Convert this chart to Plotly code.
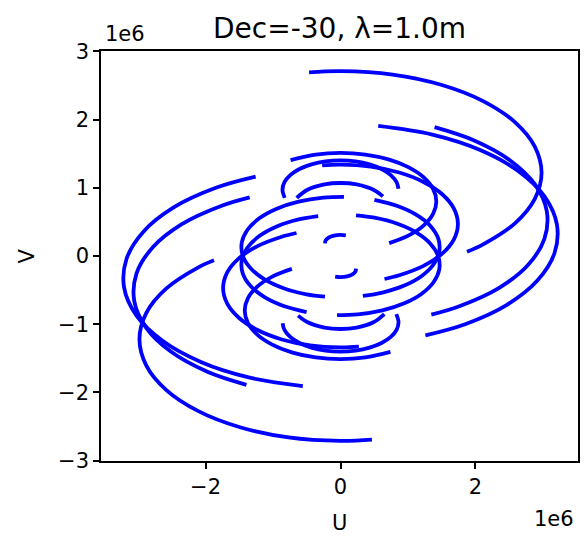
import plotly.graph_objects as go

# u, v values in units of 1e6 wavelengths
E1_U = [-0.466, 0.0, 0.771, 1.490, 2.107, 2.581, 2.878, 2.980, 2.878, 2.581, 2.107, 1.875]
E1_V = [2.692, 2.710, 2.659, 2.510, 2.274, 1.965, 1.606, 1.220, 0.834, 0.475, 0.166, 0.062]
E1M_U = [0.466, 0.0, -0.771, -1.490, -2.107, -2.581, -2.878, -2.980, -2.878, -2.581, -2.107, -1.875]
E1M_V = [-2.692, -2.710, -2.659, -2.510, -2.274, -1.965, -1.606, -1.220, -0.834, -0.475, -0.166, -0.062]

E2_U = [0.559, 1.361, 2.070, 2.638, 3.026, 3.208, 3.171, 2.918, 2.467, 1.847, 1.258]
E2_V = [1.906, 1.779, 1.553, 1.243, 0.871, 0.460, 0.040, -0.360, -0.715, -0.999, -1.162]
E2M_U = [-0.559, -1.361, -2.070, -2.638, -3.026, -3.208, -3.171, -2.918, -2.467, -1.847, -1.258]
E2M_V = [-1.906, -1.779, -1.553, -1.243, -0.871, -0.460, -0.040, 0.360, 0.715, 0.999, 1.162]

E3_U = [1.394, 1.973, 2.515, 2.885, 3.058, 3.023, 2.782, 2.352, 1.761, 1.346]
E3_V = [1.888, 1.696, 1.400, 1.045, 0.654, 0.254, -0.129, -0.467, -0.737, -0.860]
E3M_U = [-1.394, -1.973, -2.515, -2.885, -3.058, -3.023, -2.782, -2.352, -1.761, -1.346]
E3M_V = [-1.888, -1.696, -1.400, -1.045, -0.654, -0.254, 0.129, 0.467, 0.737, 0.860]

E4_U = [-0.740, -0.368, 0.0, 0.368, 0.710, 1.004, 1.230, 1.372, 1.420, 1.372, 1.230, 1.004, 0.721]
E4_V = [1.406, 1.486, 1.510, 1.486, 1.415, 1.302, 1.155, 0.984, 0.800, 0.616, 0.445, 0.298, 0.188]
E4M_U = [0.740, 0.368, 0.0, -0.368, -0.710, -1.004, -1.230, -1.372, -1.420, -1.372, -1.230, -1.004, -0.721]
E4M_V = [-1.406, -1.486, -1.510, -1.486, -1.415, -1.302, -1.155, -0.984, -0.800, -0.616, -0.445, -0.298, -0.188]

E5_U = [-0.827, -0.860, -0.831, -0.745, -0.608, -0.430, -0.223, 0.0, 0.223, 0.430, 0.608, 0.745, 0.831, 0.859]
E5_V = [0.852, 0.970, 1.081, 1.185, 1.274, 1.342, 1.385, 1.400, 1.385, 1.342, 1.274, 1.185, 1.081, 0.985]
E5M_U = [0.827, 0.860, 0.831, 0.745, 0.608, 0.430, 0.223, 0.0, -0.223, -0.430, -0.608, -0.745, -0.831, -0.859]
E5M_V = [-0.852, -0.970, -1.081, -1.185, -1.274, -1.342, -1.385, -1.400, -1.385, -1.342, -1.274, -1.185, -1.081, -0.985]

E6_U = [-0.649, -0.495, -0.239, 0.0, 0.239, 0.495, 0.629]
E6_V = [0.851, 0.967, 1.049, 1.070, 1.049, 0.967, 0.873]
E6M_U = [0.649, 0.495, 0.239, 0.0, -0.239, -0.495, -0.629]
E6M_V = [-0.851, -0.967, -1.049, -1.070, -1.049, -0.967, -0.873]

C1_U = [-0.272, 0.0, 0.450, 0.870, 1.230, 1.507, 1.681, 1.740, 1.681, 1.507, 1.230, 0.870, 0.652]
C1_V = [1.329, 1.340, 1.310, 1.223, 1.085, 0.905, 0.695, 0.470, 0.245, 0.035, -0.145, -0.283, -0.337]
C1M_U = [0.272, 0.0, -0.450, -0.870, -1.230, -1.507, -1.681, -1.740, -1.681, -1.507, -1.230, -0.870, -0.652]
C1M_V = [-1.329, -1.340, -1.310, -1.223, -1.085, -0.905, -0.695, -0.470, -0.245, -0.035, 0.145, 0.283, 0.337]

C2A_U = [-0.230, -0.503, -0.843, -1.126, -1.332, -1.448, -1.464, -1.381, -1.204, -0.945, -0.621, -0.255, 0.051]
C2A_V = [-0.596, -0.561, -0.472, -0.343, -0.181, 0.002, 0.194, 0.381, 0.552, 0.693, 0.796, 0.854, 0.865]
C2AM_U = [0.230, 0.503, 0.843, 1.126, 1.332, 1.448, 1.464, 1.381, 1.204, 0.945, 0.621, 0.255, -0.051]
C2AM_V = [0.596, 0.561, 0.472, 0.343, 0.181, -0.002, -0.194, -0.381, -0.552, -0.693, -0.796, -0.854, -0.865]

C2B_U = [0.503, 0.843, 1.126, 1.332, 1.448, 1.464, 1.381, 1.204, 0.945, 0.621, 0.331]
C2B_V = [0.821, 0.732, 0.602, 0.441, 0.258, 0.066, -0.121, -0.292, -0.433, -0.536, -0.586]
C2BM_U = [-0.503, -0.843, -1.126, -1.332, -1.448, -1.464, -1.381, -1.204, -0.945, -0.621, -0.331]
C2BM_V = [-0.821, -0.732, -0.602, -0.441, -0.258, -0.066, 0.121, 0.292, 0.433, 0.536, 0.586]

S_U = [-0.229, -0.222, -0.176, -0.097, 0.0, 0.079]
S_V = [0.185, 0.225, 0.269, 0.299, 0.310, 0.303]
SM_U = [0.229, 0.222, 0.176, 0.097, 0.0, -0.079]
SM_V = [-0.185, -0.225, -0.269, -0.299, -0.310, -0.303]

ARCS = [
    (E1_U, E1_V), (E1M_U, E1M_V), (E2_U, E2_V), (E2M_U, E2M_V),
    (E3_U, E3_V), (E3M_U, E3M_V), (E4_U, E4_V), (E4M_U, E4M_V),
    (E5_U, E5_V), (E5M_U, E5M_V), (E6_U, E6_V), (E6M_U, E6M_V),
    (C1_U, C1_V), (C1M_U, C1M_V), (C2A_U, C2A_V), (C2AM_U, C2AM_V),
    (C2B_U, C2B_V), (C2BM_U, C2BM_V), (S_U, S_V), (SM_U, SM_V),
]

X_TICKS = [-2, 0, 2]
Y_TICKS = [-3, -2, -1, 0, 1, 2, 3]

FONT = "DejaVu Sans"

fig = go.Figure()
for u, v in ARCS:
    fig.add_trace(go.Scatter(
        x=u, y=v, mode="lines",
        line=dict(color="#0000ff", width=3.8, shape="spline", smoothing=1.0),
        hoverinfo="skip", showlegend=False,
    ))

axis_common = dict(
    showgrid=False, zeroline=False, showline=True, mirror=True,
    linecolor="black", linewidth=1.5, ticks="outside", ticklen=6,
    tickwidth=1.5, tickcolor="black",
    tickfont=dict(family=FONT, size=21, color="black"),
)

fig.update_layout(
    width=585, height=536,
    margin=dict(l=101, r=5, t=51, b=75),
    paper_bgcolor="white", plot_bgcolor="white",
    xaxis=dict(range=[-3.55, 3.52], tickvals=X_TICKS, **axis_common),
    yaxis=dict(range=[-3.004, 3.004], tickvals=Y_TICKS, **axis_common),
    annotations=[
        dict(text="Dec=-30, λ=1.0m", x=0.5, y=1.055, xref="paper", yref="paper",
             xanchor="center", yanchor="middle", showarrow=False,
             font=dict(family=FONT, size=28, color="black")),
        dict(text="1e6", x=0.05, y=1.042, xref="paper", yref="paper",
             xanchor="center", yanchor="middle", showarrow=False,
             font=dict(family=FONT, size=21, color="black")),
        dict(text="1e6", x=0.95, y=-0.1415, xref="paper", yref="paper",
             xanchor="center", yanchor="middle", showarrow=False,
             font=dict(family=FONT, size=21, color="black")),
        dict(text="U", x=0.5, y=-0.151, xref="paper", yref="paper",
             xanchor="center", yanchor="middle", showarrow=False,
             font=dict(family=FONT, size=21, color="black")),
        dict(text="V", x=-0.156, y=0.5, xref="paper", yref="paper",
             xanchor="center", yanchor="middle", showarrow=False, textangle=-90,
             font=dict(family=FONT, size=21, color="black")),
    ],
)

fig.write_html("out.html")
